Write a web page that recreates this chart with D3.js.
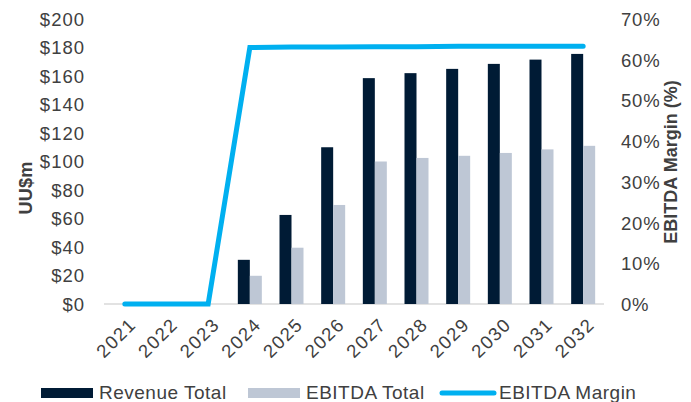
<!DOCTYPE html>
<html><head><meta charset="utf-8">
<script src="https://cdn.jsdelivr.net/npm/d3@7"></script>
<style>
body{margin:0;background:#fff;}
text{font-family:"Liberation Sans",Arial,sans-serif;fill:#404040;}
</style></head>
<body><svg id="c" width="691" height="402"></svg>
<script>
const years = ["2021","2022","2023","2024","2025","2026","2027","2028","2029","2030","2031","2032"];
const revenue = [0,0,0,31,62.5,110,158.5,162,165,168.5,171.5,175.5];
const ebitda = [0,0,0,19.8,39.5,69.5,100,102.5,104,106,108.5,111];
const margin = [0,0,0,63.0,63.1,63.1,63.2,63.2,63.3,63.3,63.3,63.3];
const leftTicks = [0,20,40,60,80,100,120,140,160,180,200];
const rightTicks = [0,10,20,30,40,50,60,70];
const seriesNames = ["Revenue Total","EBITDA Total","EBITDA Margin"];

const colRev = "#001B35", colEb = "#BEC7D5", colLine = "#00B0F0";
const svg = d3.select("#c");
const L = 104, R = 604, T = 19, B = 304;
const FS = 18.5;

const x = d3.scaleBand().domain(years).range([L, R]).padding(0);
const bw = x.bandwidth();
const xs = d3.scaleBand().domain(["rev","eb"]).range([bw/2-12, bw/2+12]);
const yL = d3.scaleLinear().domain([0,200]).range([B, T]);
const yR = d3.scaleLinear().domain([0,0.7]).range([B, T]);

// baseline
svg.append("line").attr("x1", L).attr("x2", R).attr("y1", B).attr("y2", B)
  .attr("stroke", "#d9d9d9").attr("stroke-width", 1.5);

// bars
const g = svg.append("g");
years.forEach((yr, i) => {
  if (revenue[i] > 0) g.append("rect").attr("x", x(yr)+xs("rev")).attr("width", xs.bandwidth())
    .attr("y", yL(revenue[i])).attr("height", B - yL(revenue[i])).attr("fill", colRev);
  if (ebitda[i] > 0) g.append("rect").attr("x", x(yr)+xs("eb")).attr("width", xs.bandwidth())
    .attr("y", yL(ebitda[i])).attr("height", B - yL(ebitda[i])).attr("fill", colEb);
});

// line
const line = d3.line().x((d,i) => x(years[i]) + bw/2).y(d => yR(d/100));
svg.append("path").datum(margin).attr("d", line).attr("fill","none")
  .attr("stroke", colLine).attr("stroke-width", 5).attr("stroke-linecap","round").attr("stroke-linejoin","miter");

// left axis
const axL = d3.axisLeft(yL).tickValues(leftTicks).tickSize(0).tickPadding(0).tickFormat(d => "$" + d);
const gL = svg.append("g").attr("transform", `translate(84,0)`).call(axL);
gL.select(".domain").remove();
gL.selectAll("text").attr("font-size", FS).attr("font-family", null).attr("fill","#404040")
  .attr("dy","0.35em").attr("letter-spacing","1px").attr("dx","1px");

// right axis
const axR = d3.axisRight(yR).tickValues(rightTicks.map(d=>d/100)).tickSize(0).tickPadding(0).tickFormat(d => Math.round(d*100) + "%");
const gR = svg.append("g").attr("transform", `translate(621,0)`).call(axR);
gR.select(".domain").remove();
gR.selectAll("text").attr("font-size", FS).attr("font-family", null).attr("fill","#404040")
  .attr("dy","0.35em").attr("letter-spacing","0.8px");

// x axis
const axX = d3.axisBottom(x).tickSize(0).tickPadding(0);
const gX = svg.append("g").attr("transform", `translate(0,${B})`).call(axX);
gX.select(".domain").remove();
gX.selectAll("text").attr("font-size", FS).attr("font-family", null).attr("fill","#404040")
  .attr("text-anchor","end").attr("y", 0).attr("x", 0)
  .attr("transform", "translate(8,17) rotate(-45)").attr("dy","0.35em").attr("letter-spacing","1.5px");

// axis titles
svg.append("text").attr("transform","translate(32,188) rotate(-90)").attr("text-anchor","middle")
  .attr("font-size", 18).attr("font-weight","bold").attr("letter-spacing","0.3px").text("UU$m");
svg.append("text").attr("transform","translate(677,162) rotate(-90)").attr("text-anchor","middle")
  .attr("font-size", 18).attr("font-weight","bold").text("EBITDA Margin (%)");

// legend
const lg = svg.append("g");
lg.append("rect").attr("x",41).attr("y",388).attr("width",52).attr("height",10).attr("fill",colRev);
lg.append("text").attr("x",99).attr("y",399).attr("font-size",FS+0.5).attr("letter-spacing","0.5px").text(seriesNames[0]);
lg.append("rect").attr("x",248).attr("y",388).attr("width",52).attr("height",10).attr("fill",colEb);
lg.append("text").attr("x",306).attr("y",399).attr("font-size",FS+0.5).attr("letter-spacing","0.5px").text(seriesNames[1]);
lg.append("line").attr("x1",442).attr("x2",494).attr("y1",393).attr("y2",393)
  .attr("stroke",colLine).attr("stroke-width",5).attr("stroke-linecap","round");
lg.append("text").attr("x",499).attr("y",399).attr("font-size",FS+0.5).attr("letter-spacing","0.5px").text(seriesNames[2]);
</script></body></html>
